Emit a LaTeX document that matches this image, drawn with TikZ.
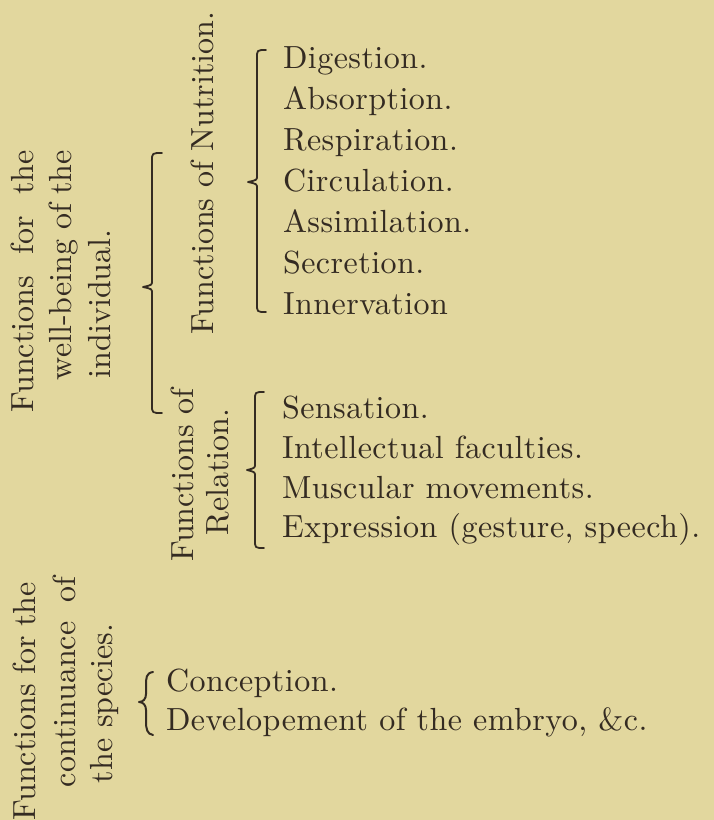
\documentclass[tikz,border=0pt]{standalone}
\usepackage{fontspec}
\setmainfont{lmroman10-regular}[Extension=.otf]
\usepackage{tikz}
\definecolor{paper}{RGB}{226,215,158}
\definecolor{ink}{RGB}{52,43,34}
% #1 x of bar, #2 x of tip, #3 x of hook ends, #4 y top, #5 y tip, #6 y bottom
\newcommand\drawbrace[6]{%
  \draw[bracestyle] (#3,#4) .. controls (#1,#4) .. (#1,#4+8) -- (#1,#5-6)
    .. controls (#1,#5-2) .. (#2,#5) .. controls (#1,#5+2) .. (#1,#5+6)
    -- (#1,#6-8) .. controls (#1,#6) .. (#3,#6);}
\begin{document}
\begin{tikzpicture}[x=1pt,y=-1pt,
  every node/.style={inner sep=0pt, outer sep=0pt, text=ink,
    font=\fontsize{32}{40}\selectfont},
  item/.style={anchor=base west,
    font=\fontsize{32}{40}\selectfont\addfontfeature{LetterSpace=1.5}},
  vtext/.style={rotate=90, anchor=base west},
  bracestyle/.style={draw=ink, line width=1.8pt, line cap=round, line join=round}]
\fill[paper] (0,0) rectangle (714,820);
\useasboundingbox (0,0) rectangle (714,820);

% well-being of the individual
\node[vtext] (wb1) at (33,412) {\makebox[262pt][s]{Functions for the}};
\node[vtext] (wb2) at (71,380) {\makebox[230pt][s]{well-being of the}};
\node[vtext] (wb3) at (110,378) {individual.};
\drawbrace{152}{143}{162}{153}{287}{413}

% nutrition
\node[vtext, anchor=base] (nut) at (213,173) {Functions of Nutrition.};
\drawbrace{257}{248}{266}{50}{182}{312}
\node[item] (n1) at (283,68) {Digestion.};
\node[item] (n2) at (283,109) {Absorption.};
\node[item] (n3) at (283,150) {Respiration.};
\node[item] (n4) at (283,191) {Circulation.};
\node[item] (n5) at (283,232) {Assimilation.};
\node[item] (n6) at (283,273) {Secretion.};
\node[item] (n7) at (283,314) {Innervation};

% relation
\node[vtext, anchor=base] (rel1) at (193,475) {Functions of};
\node[vtext, anchor=base] (rel2) at (228,472) {Relation.};
\drawbrace{255}{247}{264}{392}{470}{548}
\node[item] (r1) at (282,418) {Sensation.};
\node[item] (r2) at (282,458) {Intellectual faculties.};
\node[item] (r3) at (282,498) {Muscular movements.};
\node[item] (r4) at (282,537) {Expression (gesture, speech).};

% continuance of the species
\node[vtext] (sp1) at (35,820) {\makebox[238pt][s]{Functions for the}};
\node[vtext] (sp2) at (75,787) {\makebox[210pt][s]{continuance of}};
\node[vtext] (sp3) at (112,783) {the species.};
\draw[bracestyle, line width=2pt] (153,672) .. controls (146,673) and (146,678) .. (146,686)
  -- (146,694) .. controls (146,699) and (143,702) .. (139,702)
  .. controls (143,702) and (146,705) .. (146,710) -- (146,721)
  .. controls (146,729) and (147,734) .. (153,735);
\node[item] (c1) at (166,691) {Conception.};
\node[item] (c2) at (166,730) {Developement of the embryo, \&c.};
\end{tikzpicture}
\end{document}
